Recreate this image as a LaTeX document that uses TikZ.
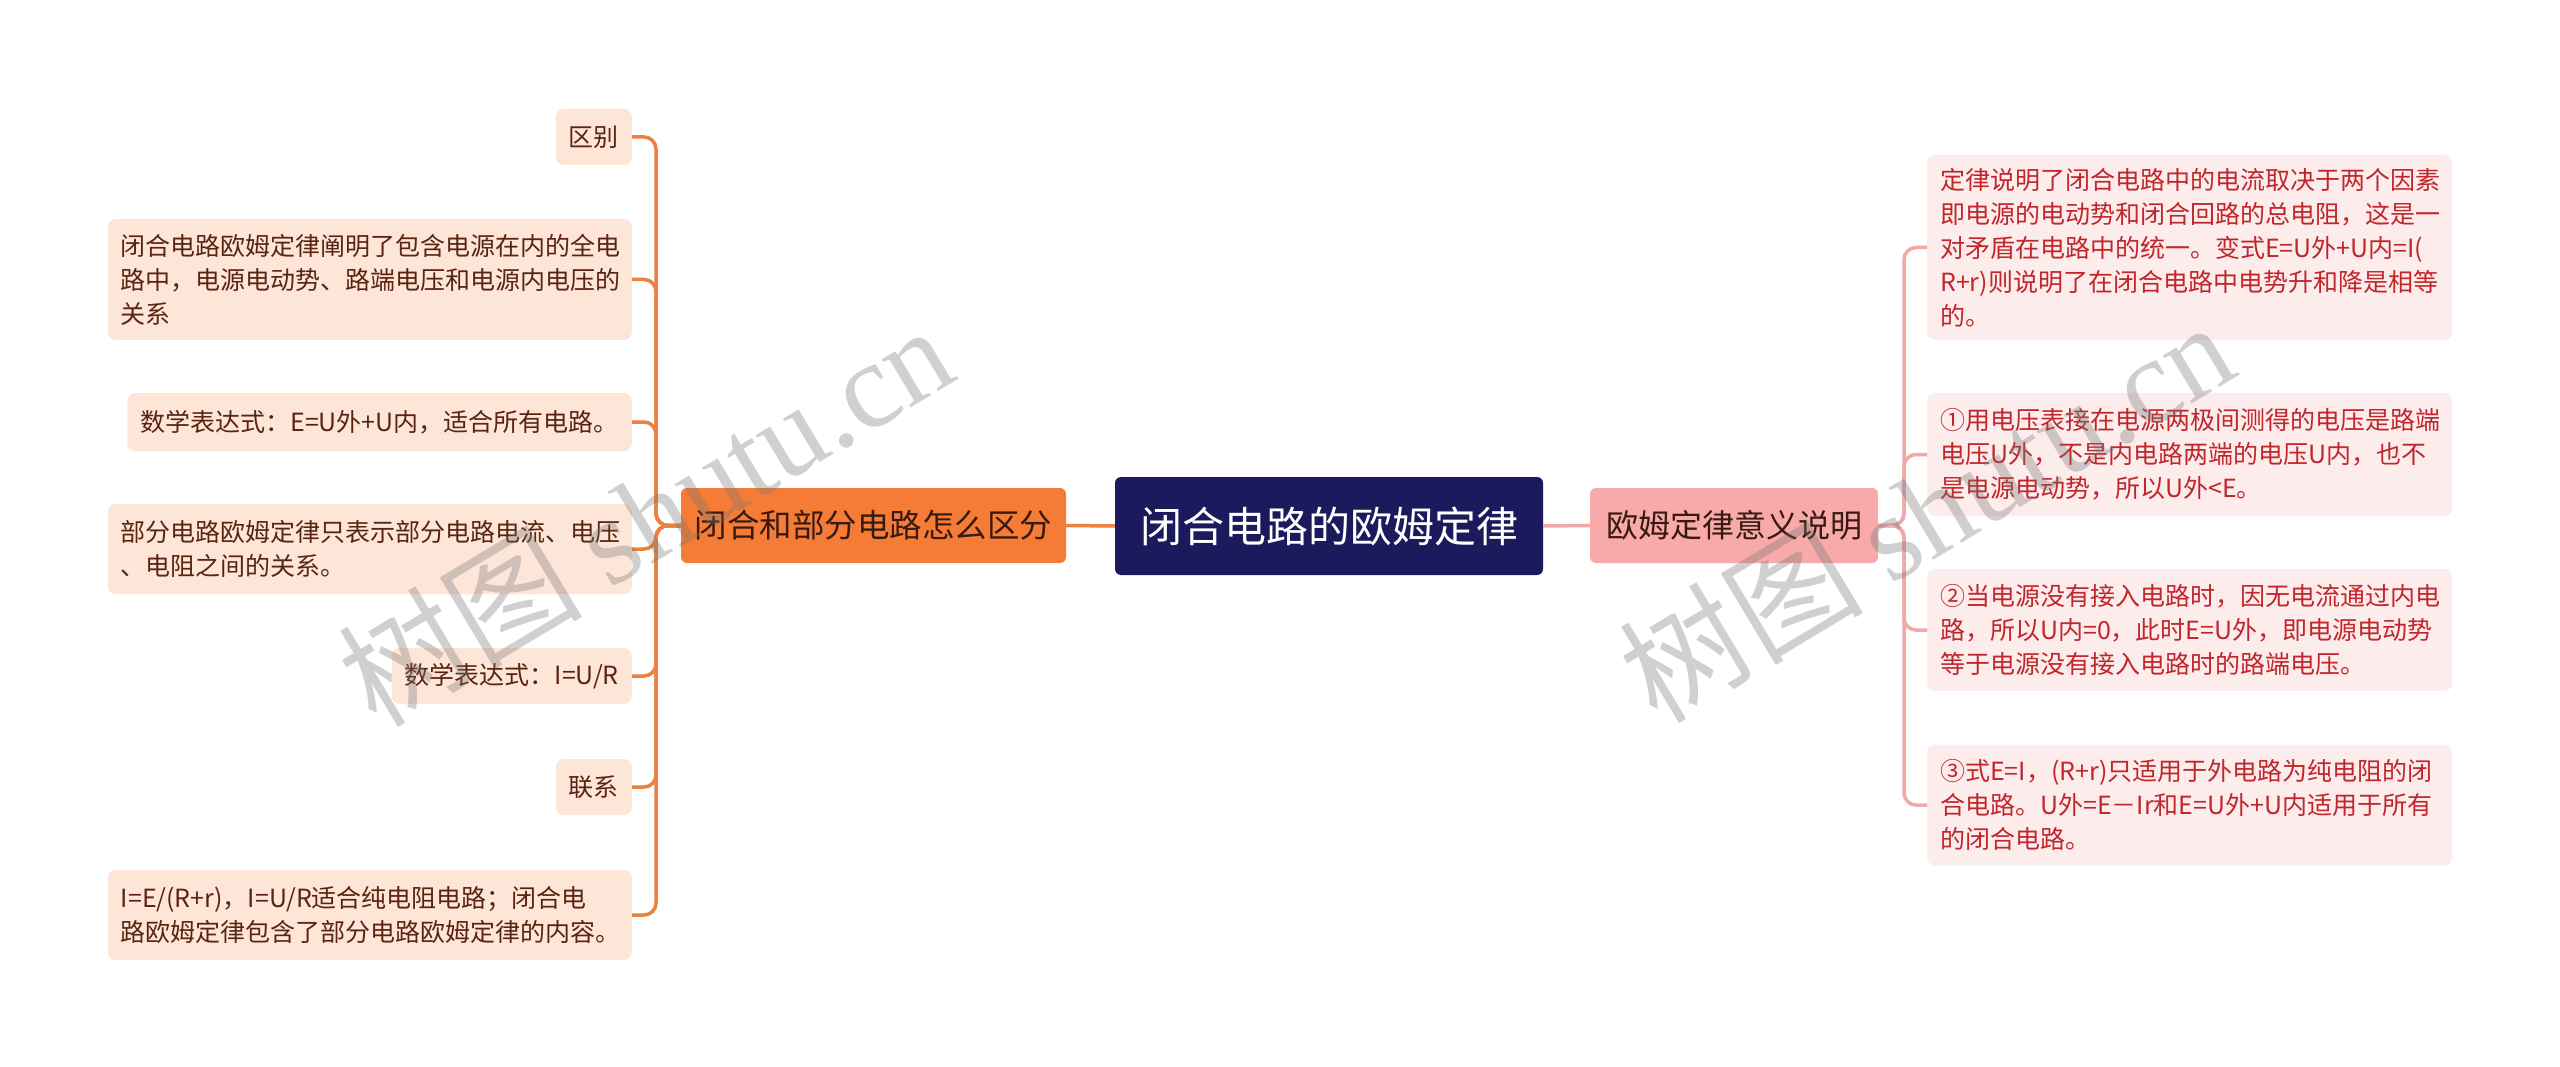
\documentclass[tikz,border=0pt]{standalone}
\usepackage{fontspec}
\setmainfont{Noto Sans CJK SC}
\newfontfamily\wmfont{Liberation Serif}
\usetikzlibrary{calc}

\definecolor{navy}{HTML}{1B1A5C}
\definecolor{orangeM}{HTML}{F47C36}
\definecolor{peach}{HTML}{FDE5D8}
\definecolor{brownT}{HTML}{5A2410}
\definecolor{orangeL}{HTML}{EB8240}
\definecolor{pinkM}{HTML}{F8AAAA}
\definecolor{pinkL}{HTML}{FDECEC}
\definecolor{redT}{HTML}{C0262A}
\definecolor{pinkLine}{HTML}{F0A8A8}
\definecolor{darkT}{HTML}{3A1A10}

\tikzset{
  leafL/.style={fill=peach, text=brownT, rounded corners=8pt, inner xsep=13pt, inner ysep=10pt,
    align=left, font=\fontsize{25pt}{34pt}\selectfont, anchor=east},
  leafR/.style={fill=pinkL, text=redT, rounded corners=8pt, inner xsep=13pt, inner ysep=10pt,
    align=left, font=\fontsize{25pt}{34pt}\selectfont, anchor=west, text width=499pt},
  lineL/.style={draw=orangeL, line width=3.5pt, rounded corners=12pt},
  lineR/.style={draw=pinkLine, line width=3.5pt, rounded corners=12pt},
  wm/.style={text=black!55, opacity=0.33, rotate=31, font=\fontsize{122pt}{130pt}\selectfont}
}

\begin{document}
\begin{tikzpicture}[x=1pt,y=-1pt]
\useasboundingbox (0,0) rectangle (2560,1067);
\fill[white] (0,0) rectangle (2560,1067);

\coordinate (tL) at (656,0);
\coordinate (tR) at (1904,0);

% central and main nodes
\node[fill=navy, text=white, rounded corners=6pt, minimum width=428pt, minimum height=98pt,
  font=\fontsize{42pt}{50pt}\selectfont] (c) at (1329,526) {闭合电路的欧姆定律};
\node[fill=orangeM, text=darkT, rounded corners=6pt, minimum width=385pt, minimum height=75pt,
  font=\fontsize{32.5pt}{40pt}\selectfont] (lm) at (873.5,525.5) {闭合和部分电路怎么区分};
\node[fill=pinkM, text=darkT, rounded corners=6pt, minimum width=288pt, minimum height=75pt,
  font=\fontsize{32pt}{40pt}\selectfont] (rm) at (1734,525.5) {欧姆定律意义说明};

% left leaves
\node[leafL, minimum height=56pt] (lA) at (632,137) {区别};
\node[leafL, minimum height=121pt, text width=498pt] (lB) at (632,279.5)
  {闭合电路欧姆定律阐明了包含电源在内的全电\\路中，电源电动势、路端电压和电源内电压的\\关系};
\node[leafL, minimum height=58pt] (lC) at (632,422) {数学表达式：E=U外+U内，适合所有电路。};
\node[leafL, minimum height=90pt, text width=498pt] (lD) at (632,549)
  {部分电路欧姆定律只表示部分电路电流、电压\\、电阻之间的关系。};
\node[leafL, minimum height=56pt] (lE) at (632,676) {数学表达式：I=U/R};
\node[leafL, minimum height=56pt] (lF) at (632,787) {联系};
\node[leafL, minimum height=90pt, text width=498pt] (lG) at (632,915)
  {I=E/(R+r)，I=U/R适合纯电阻电路；闭合电\\路欧姆定律包含了部分电路欧姆定律的内容。};

% right leaves
\node[leafR, minimum height=185pt] (r1) at (1927,247.5)
  {定律说明了闭合电路中的电流取决于两个因素\\即电源的电动势和闭合回路的总电阻，这是一\\对矛盾在电路中的统一。变式E=U外+U内=I(\\R+r)则说明了在闭合电路中电势升和降是相等\\的。};
\node[leafR, minimum height=123pt] (r2) at (1927,454.5)
  {①用电压表接在电源两极间测得的电压是路端\\电压U外，不是内电路两端的电压U内，也不\\是电源电动势，所以U外<E。};
\node[leafR, minimum height=122pt] (r3) at (1927,630)
  {②当电源没有接入电路时，因无电流通过内电\\路，所以U内=0，此时E=U外，即电源电动势\\等于电源没有接入电路时的路端电压。};
\node[leafR, minimum height=121pt] (r4) at (1927,805)
  {③式E=I，(R+r)只适用于外电路为纯电阻的闭\\合电路。U外=E－Ir和E=U外+U内适用于所有\\的闭合电路。};

% connectors
\draw[lineL] (c.west) -- (lm.east);
\draw[lineR] (c.east) -- (rm.west);
\foreach \n in {lA,lB,lC,lD,lE,lF,lG}
  \draw[lineL] (lm.west) -- (lm.west -| tL) -- (tL |- \n.east) -- (\n.east);
\foreach \n in {r1,r2,r3,r4}
  \draw[lineR] (rm.east) -- (rm.east -| tR) -- (tR |- \n.west) -- (\n.west);

% watermarks
\node[wm] (w1) at (645,514) {树图 {\wmfont shutu.cn}};
\node[wm] (w2) at (1926,510) {树图 {\wmfont shutu.cn}};
\end{tikzpicture}
\end{document}
